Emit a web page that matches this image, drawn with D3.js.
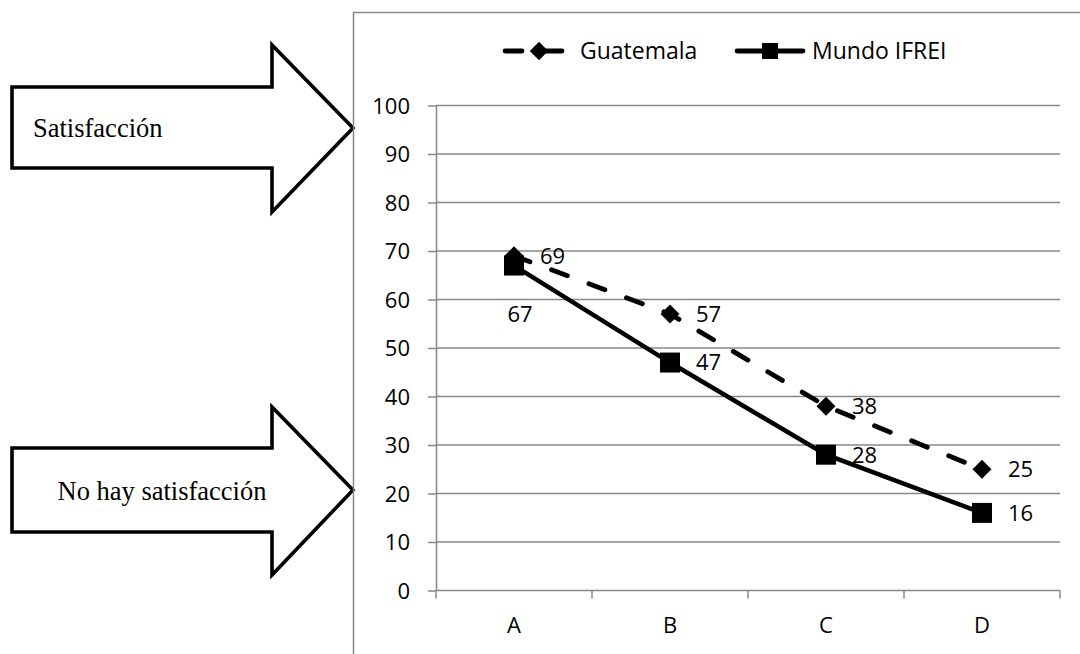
<!DOCTYPE html>
<html>
<head>
<meta charset="utf-8">
<script src="https://cdn.jsdelivr.net/npm/d3@7"></script>
<style>
  html, body { margin: 0; padding: 0; background: #fff; }
  svg { display: block; }
  .axis text, .lbl, .legend text { font-family: "Open Sans", sans-serif; font-size: 22px; fill: #000; }
  .legend text { font-size: 23px; }
  .note { font-family: "Liberation Serif", "Times New Roman", serif; font-size: 26.5px; fill: #000; }
</style>
</head>
<body>
<svg id="chart" width="1080" height="654"></svg>
<script>
// data
const categories = ['A', 'B', 'C', 'D']
const guatemala = [69, 57, 38, 25]
const mundo = [67, 47, 28, 16]
const yTicks = [0, 10, 20, 30, 40, 50, 60, 70, 80, 90, 100]
const seriesNames = ['Guatemala', 'Mundo IFREI']
const notes = ['Satisfacción', 'No hay satisfacción']

const W = 1080
const H = 654
const grid = '#888'
const svg = d3.select('#chart')

// plot area
const plot = { left: 436, right: 1060, top: 105.5, bottom: 590.5 }
const x = d3.scaleBand().domain(categories).range([plot.left, plot.right])
const cx = c => x(c) + x.bandwidth() / 2
const y = d3.scaleLinear().domain([0, 100]).range([plot.bottom, plot.top])

/**
 * block arrow outline, pointing right
 */
function arrowPoints (a) {
  return [
    [a.x0, a.sTop], [a.hx, a.sTop], [a.hx, a.hTop], [a.tip, a.cy],
    [a.hx, a.hBot], [a.hx, a.sBot], [a.x0, a.sBot],
  ]
}

const arrows = [
  { x0: 12, hx: 272, tip: 353, cy: 128, sTop: 87, sBot: 168, hTop: 45, hBot: 212, tx: 33, ty: 137, anchor: 'start' },
  { x0: 12, hx: 272, tip: 353, cy: 490, sTop: 448, sBot: 532, hTop: 407, hBot: 575, tx: 162, ty: 500, anchor: 'middle' },
]

arrows.forEach((a, i) => {
  svg.append('path')
    .attr('d', d3.line()(arrowPoints(a)) + 'Z')
    .attr('fill', '#fff')
    .attr('stroke', '#000')
    .attr('stroke-width', 3.6)
    .attr('stroke-linejoin', 'miter')
  svg.append('text')
    .attr('class', 'note')
    .attr('x', a.tx)
    .attr('y', a.ty)
    .attr('text-anchor', a.anchor)
    .text(notes[i])
})

// chart frame (only top and left edge fall inside the picture)
svg.append('path')
  .attr('d', `M${W + 5},12.5H353.5V${H + 5}`)
  .attr('fill', 'none')
  .attr('stroke', grid)
  .attr('stroke-width', 1.5)

// gridlines
svg.append('g')
  .selectAll('line')
  .data(yTicks.filter(d => d > 0))
  .join('line')
  .attr('x1', plot.left)
  .attr('x2', plot.right)
  .attr('y1', d => y(d))
  .attr('y2', d => y(d))
  .attr('stroke', grid)
  .attr('stroke-width', 1.5)

// y axis
const yAxis = svg.append('g')
  .attr('class', 'axis')
  .attr('transform', `translate(${plot.left},0)`)
  .call(d3.axisLeft(y).tickValues(yTicks).tickSizeInner(8).tickSizeOuter(0).tickPadding(18))
yAxis.select('.domain').attr('stroke', grid).attr('stroke-width', 1.5)
yAxis.selectAll('.tick line').attr('stroke', grid).attr('stroke-width', 1.5)
yAxis.selectAll('.tick text').attr('dy', '0.36em')

// x axis: labels at centers, ticks at category boundaries
const xAxis = svg.append('g')
  .attr('class', 'axis')
  .attr('transform', `translate(0,${plot.bottom})`)
  .call(d3.axisBottom(x).tickSize(0).tickPadding(42))
xAxis.select('.domain').remove()
xAxis.selectAll('.tick text').attr('dy', 0)
xAxis.append('line')
  .attr('x1', plot.left)
  .attr('x2', plot.right)
  .attr('stroke', grid)
  .attr('stroke-width', 1.5)
xAxis.selectAll('.bnd')
  .data(categories.map(c => x(c)).concat([plot.right]))
  .join('line')
  .attr('class', 'bnd')
  .attr('x1', d => d)
  .attr('x2', d => d)
  .attr('y1', 0)
  .attr('y2', 8)
  .attr('stroke', grid)
  .attr('stroke-width', 1.5)

// series
const line = d3.line().x((d, i) => cx(categories[i])).y(d => y(d))
const dash = '17,23'

svg.append('path')
  .datum(guatemala)
  .attr('d', line)
  .attr('fill', 'none')
  .attr('stroke', '#000')
  .attr('stroke-width', 4.8)
  .attr('stroke-dasharray', dash)
  .attr('stroke-linecap', 'round')

svg.append('path')
  .datum(mundo)
  .attr('d', line)
  .attr('fill', 'none')
  .attr('stroke', '#000')
  .attr('stroke-width', 4.5)

const diamond = d3.symbol().type(d3.symbolSquare).size(180)
const square = d3.symbol().type(d3.symbolSquare).size(400)

svg.append('g')
  .selectAll('path')
  .data(guatemala)
  .join('path')
  .attr('d', diamond)
  .attr('transform', (d, i) => `translate(${cx(categories[i])},${y(d)}) rotate(45)`)

svg.append('g')
  .selectAll('path')
  .data(mundo)
  .join('path')
  .attr('d', square)
  .attr('transform', (d, i) => `translate(${cx(categories[i])},${y(d)})`)

// data labels
svg.append('g')
  .selectAll('text')
  .data(guatemala)
  .join('text')
  .attr('class', 'lbl')
  .attr('x', (d, i) => cx(categories[i]) + 26)
  .attr('y', d => y(d))
  .attr('dy', '0.36em')
  .text(d => d)

svg.append('g')
  .selectAll('text')
  .data(mundo)
  .join('text')
  .attr('class', 'lbl')
  .attr('x', (d, i) => i === 0 ? cx(categories[i]) + 6 : cx(categories[i]) + 26)
  .attr('y', (d, i) => i === 0 ? y(d) + 49 : y(d))
  .attr('dy', '0.36em')
  .attr('text-anchor', (d, i) => i === 0 ? 'middle' : 'start')
  .text(d => d)

// legend
const legend = svg.append('g').attr('class', 'legend')
const legendItems = [
  { name: seriesNames[0], x1: 505, x2: 563, mx: 539, tx: 580, dashed: true },
  { name: seriesNames[1], x1: 737, x2: 803, mx: 770, tx: 812, dashed: false },
]
const ly = 51
legendItems.forEach(it => {
  legend.append('line')
    .attr('x1', it.x1)
    .attr('x2', it.x2)
    .attr('y1', ly)
    .attr('y2', ly)
    .attr('stroke', '#000')
    .attr('stroke-width', 4.8)
    .attr('stroke-linecap', 'round')
    .attr('stroke-dasharray', it.dashed ? dash : null)
  legend.append('path')
    .attr('d', it.dashed ? diamond.size(170)() : square.size(256)())
    .attr('transform', `translate(${it.mx},${ly})` + (it.dashed ? ' rotate(45)' : ''))
  legend.append('text')
    .attr('x', it.tx)
    .attr('y', ly)
    .attr('dy', '0.36em')
    .text(it.name)
})
</script>
</body>
</html>
